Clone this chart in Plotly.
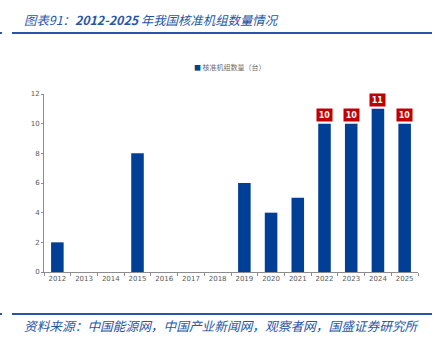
import plotly.graph_objects as go

years = ["2012", "2013", "2014", "2015", "2016", "2017", "2018",
         "2019", "2020", "2021", "2022", "2023", "2024", "2025"]
approved = [2, 0, 0, 8, 0, 0, 0, 6, 4, 5, 10, 10, 11, 10]
labelled_years = ["2022", "2023", "2024", "2025"]
series_name = "核准机组数量（台）"
title_text = "图表91：<b>2012-2025</b> 年我国核准机组数量情况"
source_text = "资料来源：中国能源网，中国产业新闻网，观察者网，国盛证券研究所"
y_ticks = [0, 2, 4, 6, 8, 10, 12]

BAR = "#003F95"
RED = "#C00000"
BLUE = "#2856A6"
GRAY = "#595959"
AXIS = "#8C8C8C"

fig = go.Figure()
fig.add_trace(go.Bar(
    x=years, y=approved, name=series_name,
    marker=dict(color=BAR, line=dict(width=0)),
    showlegend=False,
))

annotations = []
for i, (yr, v) in enumerate(zip(years, approved)):
    if yr in labelled_years:
        annotations.append(dict(
            x=i, y=v, xref="x", yref="y", text=f"<b>{v}</b>",
            showarrow=False, yanchor="bottom", yshift=2,
            bgcolor=RED, width=15, height=12, borderpad=0,
            font=dict(family="DejaVu Sans", size=8, color="white"),
        ))

W, H = 441, 342
ml, mr, mt, mb = 44, 23, 94, 70
pw, ph = W - ml - mr, H - mt - mb

def px_x(x):
    return (x - ml) / pw

def px_y(y):
    return 1 - (y - mt) / ph

# title
annotations.append(dict(
    x=px_x(22), y=px_y(20), xref="paper", yref="paper", text=f"<i>{title_text}</i>",
    showarrow=False, xanchor="left", yanchor="middle",
    font=dict(family="Noto Sans CJK SC", size=12.4, color=BLUE),
))
# source
annotations.append(dict(
    x=px_x(22), y=px_y(325), xref="paper", yref="paper", text=f"<i>{source_text}</i>",
    showarrow=False, xanchor="left", yanchor="middle",
    font=dict(family="Noto Sans CJK SC", size=12.7, color=BLUE),
))
# legend (manual)
annotations.append(dict(
    x=px_x(192), y=px_y(67), xref="paper", yref="paper",
    text=f'<span style="color:{BAR}">■</span> {series_name}',
    showarrow=False, xanchor="left", yanchor="middle",
    font=dict(family="Noto Sans CJK SC", size=7, color="#6E6E6E"),
))

shapes = []
for yline in (33, 314):
    shapes.append(dict(type="line", xref="paper", yref="paper",
                       x0=px_x(12), x1=px_x(432), y0=px_y(yline), y1=px_y(yline),
                       line=dict(color=BLUE, width=2)))
    shapes.append(dict(type="rect", xref="paper", yref="paper",
                       x0=px_x(0), x1=px_x(2), y0=px_y(yline - 1), y1=px_y(yline + 1),
                       line=dict(width=0), fillcolor=BLUE))

fig.update_layout(
    width=W, height=H,
    margin=dict(l=ml, r=mr, t=mt, b=mb),
    paper_bgcolor="white", plot_bgcolor="white",
    bargap=0.53,
    showlegend=False,
    annotations=annotations,
    shapes=shapes,
    xaxis=dict(
        type="category", range=[-0.5, len(years) - 0.5],
        showgrid=False, zeroline=False,
        showline=True, linecolor=AXIS, linewidth=1,
        ticks="outside", tickson="boundaries", ticklen=3, tickcolor=AXIS,
        tickangle=0,
        tickfont=dict(family="DejaVu Sans", size=7, color=GRAY),
    ),
    yaxis=dict(
        range=[0, 12], tickvals=y_ticks, showgrid=False, zeroline=False,
        showline=True, linecolor=AXIS, linewidth=1,
        ticks="outside", ticklen=2, tickcolor=AXIS,
        tickfont=dict(family="DejaVu Sans", size=7, color=GRAY),
    ),
)

fig.write_html("out.html")
